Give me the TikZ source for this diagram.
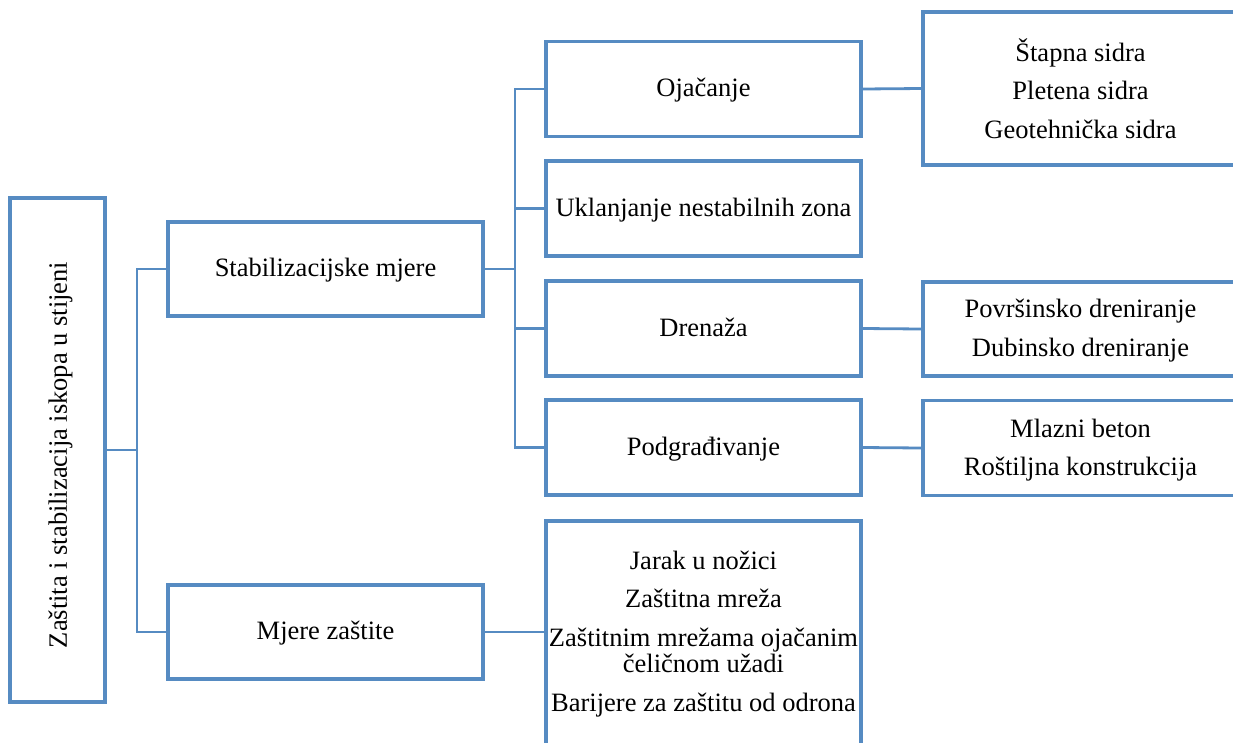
\documentclass[tikz,border=0pt]{standalone}
\usepackage{fontspec}
\setmainfont{Liberation Serif}
\definecolor{boxblue}{RGB}{86,139,194}
\tikzset{
  box/.style={draw=boxblue, line width=3.2pt, fill=white, inner sep=0pt, align=center,
    font=\fontsize{26.5}{26.5}\selectfont},
  onebox/.style={box, text height=19.4pt, text depth=4pt},
  conn/.style={draw=boxblue, line width=2.8pt},
}
\begin{document}
\begin{tikzpicture}[x=1pt,y=-1pt]
\useasboundingbox (0,0) rectangle (1233,742);
\clip (0,0) rectangle (1233,742);
% root
\node[box, minimum width=95pt, minimum height=504pt] (root) at (57.5,450) {};
\node[rotate=90, font=\fontsize{26.5}{26.5}\selectfont, inner sep=0pt] (roottxt) at (60.6,455) {Zaštita i stabilizacija iskopa u stijeni};
% level 1
\node[onebox, minimum width=315pt, minimum height=94pt] (stab) at (325.5,269) {Stabilizacijske mjere};
\node[onebox, minimum width=315pt, minimum height=94pt] (mz) at (325.5,632) {Mjere zaštite};
% level 2
\node[onebox, minimum width=315pt, minimum height=95pt] (oj) at (703.5,89) {Ojačanje};
\node[onebox, minimum width=315pt, minimum height=95pt] (uk) at (703.5,208.5) {Uklanjanje nestabilnih zona};
\node[onebox, minimum width=315pt, minimum height=95pt] (dr) at (703.5,328.5) {Drenaža};
\node[onebox, minimum width=315pt, minimum height=95pt] (pg) at (703.5,447.5) {Podgrađivanje};
\node[box, minimum width=315pt, minimum height=226pt] (zb) at (703.5,634) {Jarak u nožici\\[12pt]Zaštitna mreža\\[12pt]Zaštitnim mrežama ojačanim\\čeličnom užadi\\[12pt]Barijere za zaštitu od odrona};
% level 3
\node[box, minimum width=315pt, minimum height=153pt] (ojr) at (1080.5,88.5) {Štapna sidra\\[12pt]Pletena sidra\\[12pt]Geotehnička sidra};
\node[box, minimum width=315pt, minimum height=94pt, text depth=2.8pt] (drr) at (1080.5,329) {Površinsko dreniranje\\[13pt]Dubinsko dreniranje};
\node[box, minimum width=315pt, minimum height=95pt, text depth=1.8pt] (pgr) at (1080.5,448) {Mlazni beton\\[11pt]Roštiljna konstrukcija};
% junctions
\coordinate (j1) at (137,450);
\coordinate (j2) at (515,269);
% connectors
\draw[conn] (root.east) -- (j1);
\draw[conn] (j1) |- (stab.west);
\draw[conn] (j1) |- (mz.west);
\draw[conn] (stab.east) -- (j2);
\draw[conn] (j2) |- (oj.west);
\draw[conn] (j2) |- (uk.west);
\draw[conn] (j2) |- (dr.west);
\draw[conn] (j2) |- (pg.west);
\draw[conn] (mz.east) -- (mz.east -| zb.west);
\draw[conn] (oj.east) -- (ojr.west);
\draw[conn] (dr.east) -- (drr.west);
\draw[conn] (pg.east) -- (pgr.west);
\end{tikzpicture}
\end{document}
